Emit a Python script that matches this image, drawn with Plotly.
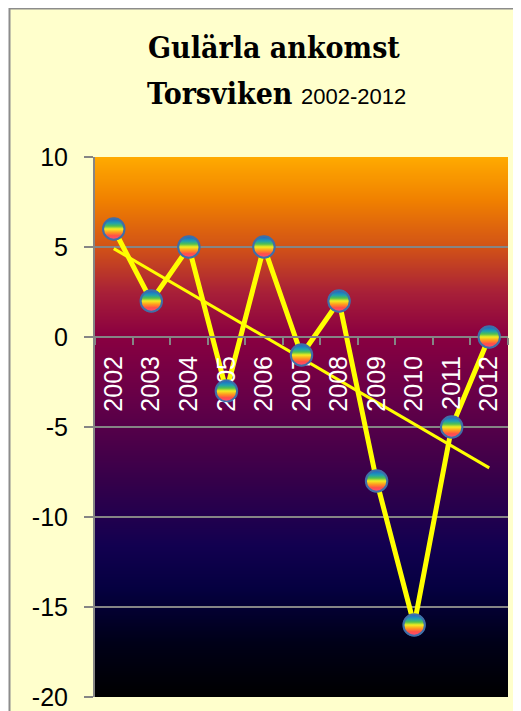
import base64, struct, zlib
import numpy as np
import plotly.graph_objects as go

# ---- data ----
years = ["2002", "2003", "2004", "2005", "2006", "2007", "2008", "2009", "2010", "2011", "2012"]
arrival = [6, 2, 5, -3, 5, -1, 2, -8, -16, -5, 0]
y_ticks = [10, 5, 0, -5, -10, -15, -20]
title_line1 = "Gulärla ankomst"
title_line2 = "Torsviken"
title_period = "2002-2012"

# ---- geometry (page pixels; the page body has an 8px margin) ----
OFF = 8
PAGE_W, PAGE_H = 521, 711
W, H = PAGE_W - OFF, PAGE_H - OFF
PL, PR, PT, PB = 95, 508, 157, 697          # plot area in page pixels
ML, MT = PL - OFF, PT - OFF
MR, MB = PAGE_W - PR, PAGE_H - PB
PW, PH = PR - PL, PB - PT

def px(xp):
    return (xp - PL) / PW

def py(yp):
    return (PB - yp) / PH

# ---- background gradient png ----
stops = [
    (0.00, (255, 170, 0)),
    (0.08, (240, 128, 0)),
    (0.17, (208, 80, 24)),
    (0.25, (168, 32, 56)),
    (0.33, (138, 0, 64)),
    (0.45, (101, 0, 72)),
    (0.60, (53, 0, 74)),
    (0.72, (18, 0, 80)),
    (0.80, (5, 0, 64)),
    (0.90, (0, 0, 24)),
    (1.00, (0, 0, 0)),
]

def grad_color(t):
    for (t0, c0), (t1, c1) in zip(stops[:-1], stops[1:]):
        if t0 <= t <= t1:
            f = (t - t0) / (t1 - t0)
            return tuple(int(round(a + (b - a) * f)) for a, b in zip(c0, c1))
    return stops[-1][1]

def png_uri(rows, width=2):
    raw = b"".join(b"\x00" + bytes(c) * width for c in rows)
    def chunk(t, d):
        return struct.pack(">I", len(d)) + t + d + struct.pack(">I", zlib.crc32(t + d) & 0xFFFFFFFF)
    png = (b"\x89PNG\r\n\x1a\n"
           + chunk(b"IHDR", struct.pack(">IIBBBBB", width, len(rows), 8, 2, 0, 0, 0))
           + chunk(b"IDAT", zlib.compress(raw))
           + chunk(b"IEND", b""))
    return "data:image/png;base64," + base64.b64encode(png).decode()

bg_uri = png_uri([grad_color(i / (PH - 1)) for i in range(PH)])

# ---- rainbow marker svg ----
marker_svg = (
    "<svg xmlns='http://www.w3.org/2000/svg' width='44' height='44' viewBox='0 0 44 44'>"
    "<defs><linearGradient id='g' x1='0' y1='0' x2='0' y2='1'>"
    "<stop offset='0.05' stop-color='#1f6fc4'/>"
    "<stop offset='0.22' stop-color='#1fa0b0'/>"
    "<stop offset='0.36' stop-color='#50c050'/>"
    "<stop offset='0.50' stop-color='#f2ee20'/>"
    "<stop offset='0.66' stop-color='#ff9a20'/>"
    "<stop offset='0.82' stop-color='#ff5048'/>"
    "<stop offset='1.0' stop-color='#ff4a78'/>"
    "</linearGradient></defs>"
    "<circle cx='22' cy='22' r='20' fill='url(#g)' stroke='#3f6fa8' stroke-width='3'/></svg>"
)
marker_uri = "data:image/svg+xml;base64," + base64.b64encode(marker_svg.encode()).decode()

# ---- trend ----
idx = np.arange(len(years))
slope, intercept = np.polyfit(idx, arrival, 1)
trend = slope * idx + intercept

fig = go.Figure()
fig.add_trace(go.Scatter(
    x=years, y=trend, mode="lines",
    line=dict(color="#FFFF00", width=3), hoverinfo="skip", showlegend=False,
))
fig.add_trace(go.Scatter(
    x=years, y=arrival, mode="lines+markers",
    line=dict(color="#FFFF00", width=5),
    marker=dict(size=22, color="#2a9ad0", gradient=dict(type="vertical", color="#ff6040"),
                line=dict(color="#3f6fa8", width=1.5)),
    showlegend=False,
))

mk_px = 23
images = [dict(source=bg_uri, xref="x domain", yref="y domain", x=0, y=1,
               sizex=1, sizey=1, sizing="stretch", layer="below",
               xanchor="left", yanchor="top")]
for i, v in enumerate(arrival):
    images.append(dict(source=marker_uri, xref="x", yref="y", x=i, y=v,
                       sizex=mk_px / (PW / len(years)), sizey=mk_px / (PH / 30),
                       sizing="stretch", xanchor="center", yanchor="middle", layer="above"))

grid = "#858585"
shapes = [
    # white outside the chart frame
    dict(type="rect", xref="paper", yref="paper", x0=px(-20), x1=px(9), y0=py(760), y1=py(-20),
         fillcolor="white", line=dict(width=0), layer="below"),
    dict(type="rect", xref="paper", yref="paper", x0=px(-20), x1=px(560), y0=py(8), y1=py(-20),
         fillcolor="white", line=dict(width=0), layer="below"),
    # frame
    dict(type="line", xref="paper", yref="paper", x0=px(9.5), x1=px(9.5), y0=py(8), y1=py(760),
         line=dict(color="#8c8c8c", width=2)),
    dict(type="line", xref="paper", yref="paper", x0=px(9), x1=px(560), y0=py(8.5), y1=py(8.5),
         line=dict(color="#8c8c8c", width=2)),
]

title_font = "DejaVu Serif Condensed, DejaVu Sans Condensed, serif"
annotations = [
    dict(text=f"<b>{title_line1}</b>", xref="paper", yref="paper", x=px(274), y=py(48),
         xanchor="center", yanchor="middle", showarrow=False,
         font=dict(family=title_font, size=30, color="black")),
    dict(text=f"<b>{title_line2}</b> <span style='font-family:Liberation Sans, Arial; font-size:22px; font-weight:normal'>{title_period}</span>",
         xref="paper", yref="paper", x=px(276), y=py(94),
         xanchor="center", yanchor="middle", showarrow=False,
         font=dict(family=title_font, size=30, color="black")),
]

fig.update_layout(
    width=W, height=H,
    margin=dict(l=ML, r=MR, t=MT, b=MB, pad=0, autoexpand=False),
    paper_bgcolor="#FFFFCC", plot_bgcolor="rgba(0,0,0,0)",
    images=images, shapes=shapes, annotations=annotations,
    font=dict(family="Liberation Sans, Arial, sans-serif"),
    xaxis=dict(
        type="category", categoryorder="array", categoryarray=years,
        range=[-0.5, len(years) - 0.5], automargin=False,
        anchor="free", position=py(PT + PH * 10 / 30),
        showline=True, linecolor=grid, linewidth=2,
        ticks="outside", tickson="boundaries", ticklen=7, tickcolor=grid, tickwidth=2,
        tickangle=-90, tickfont=dict(size=25, color="white"),
        ticklabelstandoff=8,
        showgrid=False, zeroline=False,
    ),
    yaxis=dict(
        range=[-20, 10], tickvals=y_ticks, ticktext=[str(v) for v in y_ticks],
        automargin=False,
        showgrid=True, gridcolor=grid, gridwidth=2,
        showline=True, linecolor=grid, linewidth=2,
        ticks="outside", ticklen=9, tickcolor=grid, tickwidth=2,
        tickfont=dict(size=25, color="black"), ticklabelstandoff=11,
        zeroline=False,
    ),
)

fig.write_html("out.html")
